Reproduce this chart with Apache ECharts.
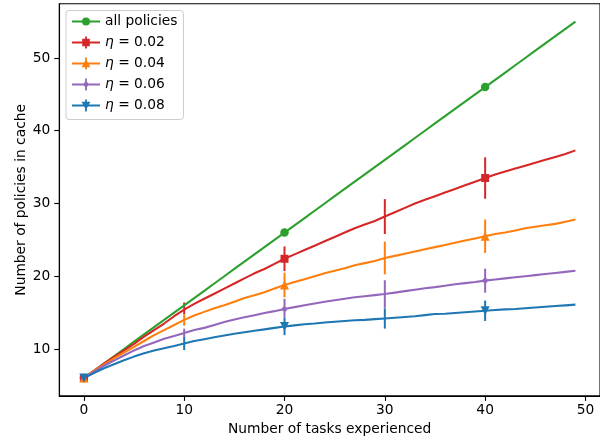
<!DOCTYPE html>
<html>
<head>
<meta charset="utf-8">
<script src="https://cdn.jsdelivr.net/npm/echarts@6/dist/echarts.min.js"></script>
<style>
html, body { margin: 0; padding: 0; background: #fff; }
#chart { width: 600px; height: 442px; }
</style>
</head>
<body>
<div id="chart"></div>
<script>
// x values: number of tasks experienced
const tasks = [0,1,2,3,4,5,6,7,8,9,10,11,12,13,14,15,16,17,18,19,20,21,22,23,24,
  25,26,27,28,29,30,31,32,33,34,35,36,37,38,39,40,41,42,43,44,45,46,47,48,49];

const allPolicies = [6,7,8,9,10,11,12,13,14,15,16,17,18,19,20,21,22,23,24,25,26,27,28,29,30,
  31,32,33,34,35,36,37,38,39,40,41,42,43,44,45,46,47,48,49,50,51,52,53,54,55];

const eta002 = [6,7.0,8.0,8.9,9.8,10.7,11.7,12.6,13.5,14.5,15.4,16.2,16.9,17.6,18.3,19.0,19.7,20.4,21.0,21.7,
  22.4,23.0,23.6,24.2,24.8,25.4,26.0,26.6,27.1,27.6,28.2,28.8,29.4,30.0,30.5,31.0,31.5,32.0,32.5,33.0,
  33.5,34.0,34.4,34.8,35.2,35.6,36.0,36.4,36.8,37.3];

const eta004 = [6,6.95,7.85,8.7,9.5,10.3,11.1,11.9,12.6,13.3,14.0,14.6,15.1,15.6,16.0,16.5,17.0,17.4,17.8,18.3,
  18.8,19.2,19.6,20.0,20.4,20.75,21.1,21.5,21.8,22.1,22.5,22.8,23.1,23.4,23.7,24.0,24.3,24.6,24.9,25.2,
  25.5,25.8,26.0,26.3,26.6,26.8,27.0,27.2,27.5,27.8];

const eta006 = [6,6.85,7.7,8.4,9.1,9.8,10.4,10.9,11.4,11.8,12.2,12.6,12.9,13.3,13.7,14.05,14.35,14.65,14.95,15.2,
  15.5,15.75,16.0,16.25,16.5,16.7,16.9,17.1,17.25,17.4,17.55,17.75,17.95,18.15,18.35,18.5,18.7,18.9,19.05,19.2,
  19.4,19.55,19.7,19.85,20.0,20.15,20.3,20.45,20.6,20.75];

const eta008 = [6,6.7,7.35,7.9,8.45,8.95,9.4,9.8,10.1,10.4,10.75,11.1,11.35,11.6,11.85,12.1,12.3,12.5,12.7,12.9,
  13.1,13.25,13.4,13.5,13.65,13.75,13.85,13.95,14.0,14.1,14.2,14.3,14.4,14.5,14.65,14.8,14.85,14.95,15.05,15.15,
  15.25,15.35,15.45,15.5,15.6,15.7,15.8,15.9,16.0,16.1];

// error bars (half widths) shown every 10 tasks
const errTasks = [10, 20, 30, 40];
const err002 = [1.0, 1.7, 2.4, 2.85];
const err004 = [0.8, 1.7, 2.25, 2.3];
const err006 = [0.6, 1.4, 1.9, 1.65];
const err008 = [0.9, 1.2, 1.4, 1.4];

const xTicks = [0, 10, 20, 30, 40, 50];
const yTicks = [10, 20, 30, 40, 50];

const FONT = 'DejaVu Sans';
const FS = 13.8;
const colors = {
  all: '#2ca02c', e2: '#d62728', e4: '#ff7f0e', e6: '#9467bd', e8: '#1f77b4'
};

function pairs(ys) {
  return tasks.map((x, i) => [x, ys[i]]);
}

function lineSeries(name, ys, color, symbol, size, rotate) {
  return {
    name: name,
    type: 'line',
    data: pairs(ys),
    color: color,
    symbol: symbol,
    symbolRotate: rotate || 0,
    symbolSize: (v, p) => (p.dataIndex % 20 === 0 ? size : 0),
    showSymbol: true,
    lineStyle: { width: 2.1, color: color },
    itemStyle: { color: color, borderWidth: 0 },
    emphasis: { disabled: true },
    z: 2
  };
}

function errSeries(ys, errs, color) {
  return {
    type: 'custom',
    data: errTasks.map((x, i) => [x, ys[x] - errs[i], ys[x] + errs[i]]),
    encode: { x: 0, y: [1, 2] },
    renderItem: function (params, api) {
      const top = api.coord([api.value(0), api.value(2)]);
      const bot = api.coord([api.value(0), api.value(1)]);
      const shape = { x1: top[0], y1: top[1], x2: bot[0], y2: bot[1] };
      return {
        type: 'group',
        children: [
          { type: 'line', shape: shape, style: { stroke: '#fff', lineWidth: 3.6 } },
          { type: 'line', shape: shape, style: { stroke: color, lineWidth: 2 } }
        ]
      };
    },
    silent: true,
    z: 2
  };
}

// legend icons: line + marker (+ error bar), drawn in a 28x12 box
const hline = 'M0 5H28V7H0Z';
const vbar = 'M13.1 0H14.9V12H13.1Z';
const icons = {
  all: 'path://' + hline + 'M10 6A4 4 0 1 1 18 6A4 4 0 1 1 10 6Z',
  e2: 'path://' + hline + vbar + 'M10.2 2.2H17.8V9.8H10.2Z',
  e4: 'path://' + hline + vbar + 'M14 1.6L18.4 9.8H9.6Z',
  e6: 'path://' + hline + vbar + 'M11.6 6A2.4 2.4 0 1 1 16.4 6A2.4 2.4 0 1 1 11.6 6Z',
  e8: 'path://' + hline + vbar + 'M9.6 2.2H18.4L14 10.4Z'
};

const chart = echarts.init(document.getElementById('chart'));
const option = {
  animation: false,
  backgroundColor: '#fff',
  grid: {
    left: 59.3, right: -3.6, top: 3.8, bottom: 46.1,
    show: true, borderColor: '#000', borderWidth: 1.1, backgroundColor: 'transparent'
  },
  legend: {
    orient: 'vertical',
    left: 66, top: 10.5,
    padding: [4, 6, 7, 6],
    itemWidth: 28, itemHeight: 14, itemGap: 7, itemTextGap: 10,
    backgroundColor: 'rgba(255,255,255,0.8)',
    borderColor: '#cccccc', borderWidth: 1, borderRadius: 3,
    selectedMode: false,
    data: [
      { name: 'all policies', icon: icons.all },
      { name: 'η = 0.02', icon: icons.e2 },
      { name: 'η = 0.04', icon: icons.e4 },
      { name: 'η = 0.06', icon: icons.e6 },
      { name: 'η = 0.08', icon: icons.e8 }
    ],
    formatter: name => name.replace('η', '{i|η}'),
    textStyle: {
      fontFamily: FONT, fontSize: FS, color: '#000', lineHeight: 14,
      rich: { i: { fontFamily: FONT, fontSize: FS, fontStyle: 'italic', color: '#000' } }
    }
  },
  xAxis: {
    type: 'value',
    min: -2.45, max: 51.45,
    name: 'Number of tasks experienced',
    nameLocation: 'middle', nameGap: 27, nameMoveOverlap: false,
    nameTextStyle: { fontFamily: FONT, fontSize: FS, color: '#000' },
    axisLine: { show: true, onZero: false, lineStyle: { color: '#000', width: 1.1 } },
    axisTick: { show: true, length: 5, customValues: xTicks, lineStyle: { color: '#000', width: 1.1 } },
    axisLabel: { customValues: xTicks, margin: 8, fontFamily: FONT, fontSize: FS, color: '#000' },
    splitLine: { show: false }
  },
  yAxis: {
    type: 'value',
    min: 3.55, max: 57.45,
    name: 'Number of policies in cache',
    nameLocation: 'middle', nameGap: 31, nameMoveOverlap: false,
    nameTextStyle: { fontFamily: FONT, fontSize: FS, color: '#000' },
    axisLine: { show: true, onZero: false, lineStyle: { color: '#000', width: 1.1 } },
    axisTick: { show: true, length: 5, customValues: yTicks, lineStyle: { color: '#000', width: 1.1 } },
    axisLabel: { customValues: yTicks, margin: 9, fontFamily: FONT, fontSize: FS, color: '#000' },
    splitLine: { show: false }
  },
  series: [
    lineSeries('all policies', allPolicies, colors.all, 'circle', 8.5),
    lineSeries('η = 0.02', eta002, colors.e2, 'rect', 8),
    errSeries(eta002, err002, colors.e2),
    lineSeries('η = 0.04', eta004, colors.e4, 'triangle', 9),
    errSeries(eta004, err004, colors.e4),
    lineSeries('η = 0.06', eta006, colors.e6, 'circle', 5),
    errSeries(eta006, err006, colors.e6),
    lineSeries('η = 0.08', eta008, colors.e8, 'triangle', 9, 180),
    errSeries(eta008, err008, colors.e8)
  ]
};
chart.setOption(option);
</script>
</body>
</html>
